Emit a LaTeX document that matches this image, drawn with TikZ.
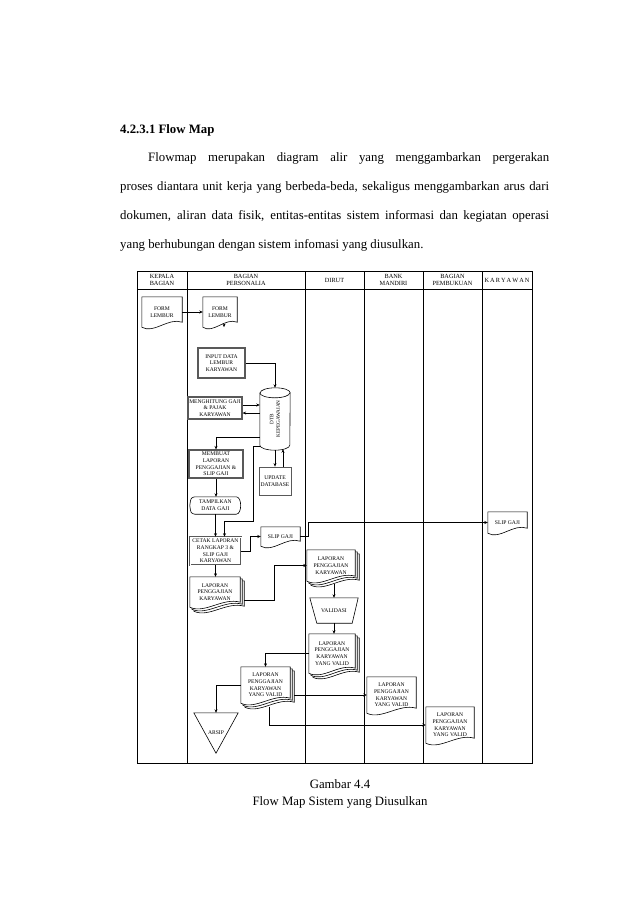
\documentclass[tikz,border=0pt]{standalone}
\usepackage{fontspec}
\setmainfont{Liberation Serif}
\usetikzlibrary{arrows.meta,calc}
\pgfdeclarelayer{paper}
\pgfdeclarelayer{bg}
\pgfsetlayers{paper,bg,main}
\newcommand\nf{\fontsize{5.6}{6.7}\selectfont}
\newcommand\hf{\fontsize{6.3}{7.4}\selectfont}
\newcommand\bodyf{\fontsize{12.8}{15}\selectfont}
% document outline of node #1 shifted by (#2,#3)
\newcommand\docoutline[3]{%
  \draw[docline,fill=white] ($(#1.north west)+(#2,#3)$) -- ($(#1.north east)+(#2,#3)$)
    -- ($(#1.south east)+(#2,#3-5)$)
    .. controls ($(#1.south)!0.3!(#1.south east)+(#2,#3-10)$) and ($(#1.south)!0.4!(#1.south west)+(#2,#3+7)$)
    .. ($(#1.south west)+(#2,#3)$) -- cycle;}
\newcommand\multidoc[1]{\docoutline{#1}{4}{4}\docoutline{#1}{2}{2}\docoutline{#1}{0}{0}}
\begin{document}
\begin{tikzpicture}[x=1pt,y=-1pt,
  box/.style={inner sep=0pt, align=center, font=\nf},
  proc/.style={box, draw=black!65, line width=1.2pt, fill=white},
  dbl/.style={box, draw=black!65, double, line width=0.6pt, double distance=0.8pt, fill=white},
  docline/.style={line width=0.6pt, draw=black},
  arr/.style={-{Stealth[length=3.5pt,width=3pt]}, line width=0.6pt},
  tbl/.style={line width=0.9pt},
  hdr/.style={align=center, font=\hf, inner sep=0pt},
  txt/.style={font=\bodyf, inner sep=0pt, anchor=base west},
  captxt/.style={font=\bodyf, inner sep=0pt, anchor=base}]
\begin{pgfonlayer}{paper}
\fill[white] (0,0) rectangle (638,903);
\end{pgfonlayer}
\useasboundingbox (0,0) rectangle (638,903);

% ---- text ----
\node[txt] (head) at (120,133) {\textbf{4.2.3.1 Flow Map}};
\node[txt] (l1) at (148,161) {\makebox[401pt][s]{Flowmap merupakan diagram alir yang menggambarkan pergerakan}};
\node[txt] (l2) at (120,190) {\makebox[429pt][s]{proses diantara unit kerja yang berbeda-beda, sekaligus menggambarkan arus dari}};
\node[txt] (l3) at (120,219) {\makebox[429pt][s]{dokumen, aliran data fisik, entitas-entitas sistem informasi dan kegiatan operasi}};
\node[txt] (l4) at (120,248) {yang berhubungan dengan sistem infomasi yang diusulkan.};

% ---- table ----
\draw[tbl] (137,271) rectangle (532,763);
\draw[tbl] (137,289) -- (532,289);
\foreach \xx in {187,305,364,423,482} \draw[tbl] (\xx,271) -- (\xx,763);
\node[hdr] (h1) at (162,280) {KEPALA\\BAGIAN};
\node[hdr] (h2) at (246,280) {BAGIAN\\PERSONALIA};
\node[hdr] (h3) at (334.5,280) {DIRUT};
\node[hdr] (h4) at (393.5,280) {BANK\\MANDIRI};
\node[hdr] (h5) at (452.5,280) {BAGIAN\\PEMBUKUAN};
\node[hdr] (h6) at (507,280) {K\,A\,R\,Y\,A\,W\,A\,N};

% ---- nodes ----
\node[box, minimum width=40pt, minimum height=30pt] (f1) at (162,312) {FORM\\LEMBUR};
\node[box, minimum width=34pt, minimum height=30pt] (f2) at (220,312) {FORM\\LEMBUR};
\node[proc, minimum width=47pt, minimum height=30pt] (inp) at (221.5,363) {INPUT DATA\\LEMBUR\\KARYAWAN};
\node[box, font=\fontsize{5.2}{6.4}\selectfont, minimum width=30pt, minimum height=62pt] (cyl) at (275,419) {\rotatebox{90}{\shortstack{DTB\\KEPEGAWAIAN}}};
\node[proc, minimum width=54pt, minimum height=22pt] (hit) at (215,408) {MENGHITUNG GAJI\\\& PAJAK\\KARYAWAN};
\node[proc, minimum width=54pt, minimum height=28pt] (mem) at (216,464) {MEMBUAT\\LAPORAN\\PENGGAJIAN \&\\SLIP GAJI};
\node[proc, line width=0.8pt, minimum width=32pt, minimum height=28pt] (upd) at (275,481) {UPDATE\\DATABASE};
\node[box, minimum width=51pt, minimum height=17pt] (tam) at (215.5,505.5) {TAMPILKAN\\DATA GAJI};
\node[dbl, minimum width=51pt, minimum height=28pt] (cet) at (215.5,551) {CETAK LAPORAN\\RANGKAP 3 \&\\SLIP GAJI\\KARYAWAN};
\node[box, minimum width=39pt, minimum height=19pt] (slip1) at (280.5,536.5) {SLIP GAJI};
\node[box, minimum width=39pt, minimum height=21pt] (slip2) at (507.5,522.5) {SLIP GAJI};
\node[box, minimum width=50pt, minimum height=30pt] (lap1) at (215,592) {LAPORAN\\PENGGAJIAN\\KARYAWAN};
\node[box, minimum width=48pt, minimum height=31pt] (lap2) at (331,565.5) {LAPORAN\\PENGGAJIAN\\KARYAWAN};
\node[box, minimum width=48pt, minimum height=25pt] (val) at (334,610.5) {VALIDASI};
\node[box, minimum width=46pt, minimum height=39pt] (lap3) at (332,653.5) {LAPORAN\\PENGGAJIAN\\KARYAWAN\\YANG VALID};
\node[box, minimum width=49pt, minimum height=36pt] (lap4) at (265.5,685) {LAPORAN\\PENGGAJIAN\\KARYAWAN\\YANG VALID};
\node[box, minimum width=44pt, minimum height=40pt] (arsip) at (216,733) {ARSIP};
\node[box, minimum width=49pt, minimum height=36pt] (bank) at (391.5,695) {LAPORAN\\PENGGAJIAN\\KARYAWAN\\YANG VALID};
\node[box, minimum width=48pt, minimum height=36pt] (pem) at (450,725) {LAPORAN\\PENGGAJIAN\\KARYAWAN\\YANG VALID};

% ---- outlines ----
\begin{pgfonlayer}{bg}
\docoutline{f1}{0}{0}
\docoutline{f2}{0}{0}
\docoutline{slip1}{0}{0}
\docoutline{slip2}{0}{0}
\docoutline{bank}{0}{0}
\docoutline{pem}{0}{0}
\multidoc{lap1}
\multidoc{lap2}
\multidoc{lap3}
\multidoc{lap4}
% cylinder
\draw[docline,fill=white] ($(cyl.north west)+(0,5)$) -- ($(cyl.south west)+(0,-5)$)
  arc[start angle=180,end angle=360,x radius=15pt,y radius=5pt]
  -- ($(cyl.north east)+(0,5)$)
  arc[start angle=0,end angle=180,x radius=15pt,y radius=5pt] -- cycle;
\draw[docline] ($(cyl.north west)+(0,5)$) arc[start angle=180,end angle=360,x radius=15pt,y radius=5pt];
% display
\draw[docline] ($(tam.north west)+(5,0)$) -- ($(tam.north east)+(-5,0)$)
  .. controls ($(tam.north east)+(1,0)$) and ($(tam.south east)+(1,0)$) .. ($(tam.south east)+(-5,0)$)
  -- ($(tam.south west)+(5,0)$)
  .. controls ($(tam.south west)+(1,-1)$) .. (tam.west)
  .. controls ($(tam.north west)+(1,1)$) .. ($(tam.north west)+(5,0)$) -- cycle;
% manual operation
\draw[docline] (val.north west) -- (val.north east) -- ($(val.south east)+(-6,0)$) -- ($(val.south west)+(7,0)$) -- cycle;
% offline storage
\draw[docline] (arsip.north west) -- (arsip.north east) -- (arsip.south) -- cycle;
\end{pgfonlayer}

% ---- connectors ----
\draw[arr] (f1.east) -- (f2.west);
\draw[arr] ($(f2.south)+(4,-3)$) -- ($(f2.south)+(4,0)$ |- inp.north);
\draw[arr] (inp.east) -| (cyl.north);
\path ($(hit.east)+(0,-3)$) coordinate (a1) ($(hit.east)+(0,5)$) coordinate (a2);
\draw[arr] (a1) -- (a1 -| cyl.west);
\draw[arr] (a2 -| cyl.west) -- (a2);
\draw[arr] ($(cyl.west)+(0,18)$) -| (mem.north);
\draw[arr] (cyl.south) -- (cyl.south |- upd.north);
\draw[arr] ($(upd.north)+(8,0)$) -- ($(cyl.south)+(8,-1)$);
\draw[arr] ($(cyl.south west)+(0,-4)$) -- ++(-7,0) |- ($(cet.north)+(9,-15)$) -- ($(cet.north)+(9,0)$);
\draw[arr] (mem.south) -- (mem.south |- tam.north);
\draw[arr] (tam.south) -- (cet.north);
\draw[arr] (cet.east) -- ++(9,0) |- (slip1.west);
\draw[arr] (slip1.east) -- ++(8,0) |- (slip2.west);
\draw[arr] (cet.south) -- (cet.south |- lap1.north);
\draw[arr] ($(lap1.east)+(4,8)$) -- ++(30,0) |- (lap2.west);
\draw[arr] ($(lap2.south)+(3,3)$) -- (val.north);
\draw[arr] (val.south) -- (val.south |- lap3.north);
\draw[arr] (lap3.west) -| (lap4.north);
\draw[arr] (lap4.west) -| (arsip.north);
\draw[arr] ($(lap4.east |- bank.west)+(4,0)$) -- (bank.west);
\draw[arr] ($(lap4.south)+(4,4)$) |- (pem.west);

% ---- caption ----
\node[captxt] (c1) at (340,788) {Gambar 4.4};
\node[captxt] (c2) at (340,805) {Flow Map Sistem yang Diusulkan};
\end{tikzpicture}
\end{document}
